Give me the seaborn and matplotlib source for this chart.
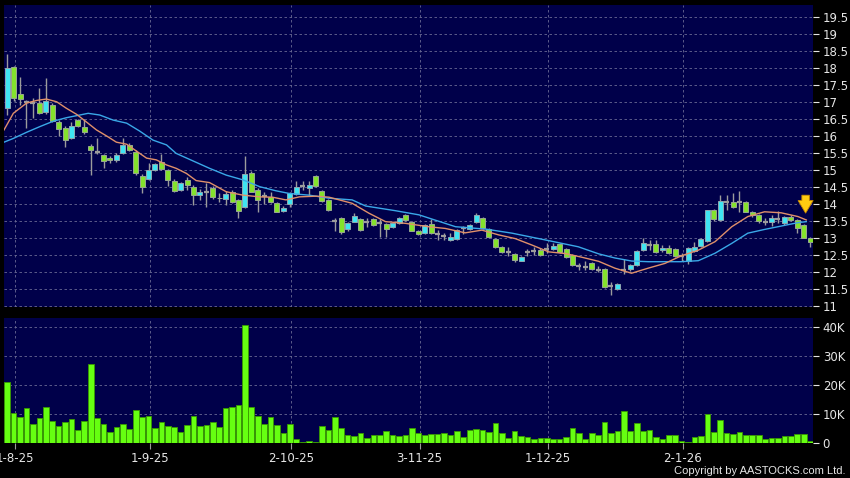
import numpy as np
import pandas as pd
import matplotlib
matplotlib.use("Agg")
import matplotlib.pyplot as plt
import seaborn as sns

# ---------------- data ----------------
opens = [16.81, 18.02, 17.22, 16.99, 16.96, 16.96, 16.71, 16.91, 16.40, 16.22,
         15.92, 16.45, 16.27, 15.71, 15.53, 15.42, 15.35, 15.28, 15.48, 15.73,
         15.53, 14.82, 14.73, 14.98, 15.23, 14.99, 14.68, 14.40, 14.70, 14.50,
         14.26, 14.33, 14.47, 14.18, 14.15, 14.35, 14.11, 13.91, 14.91, 14.40,
         14.22, 14.19, 14.01, 13.78, 13.98, 14.28, 14.53, 14.47, 14.81, 14.37,
         14.12, 13.49, 13.57, 13.24, 13.47, 13.54, 13.45, 13.54, 13.42, 13.39,
         13.32, 13.44, 13.67, 13.47, 13.20, 13.13, 13.39, 13.10, 13.04, 12.93,
         12.95, 13.27, 13.25, 13.45, 13.57, 13.24, 12.95, 12.71, 12.58, 12.52,
         12.32, 12.57, 12.61, 12.63, 12.66, 12.66, 12.81, 12.65, 12.48, 12.15,
         12.14, 12.24, 12.06, 12.07, 11.58, 11.48, 12.05, 12.07, 12.19, 12.64,
         12.77, 12.81, 12.63, 12.68, 12.66, 12.45, 12.30, 12.61, 12.76, 12.90,
         13.80, 13.52, 14.05, 14.05, 14.04, 14.04, 13.76, 13.66, 13.45, 13.47,
         13.55, 13.42, 13.62, 13.52, 13.36, 12.99]
highs = [18.40, 18.05, 17.72, 17.05, 17.10, 17.40, 17.69, 16.95, 16.45, 16.30,
         16.40, 16.50, 16.50, 15.75, 15.94, 15.45, 15.40, 15.48, 15.92, 15.78,
         15.57, 14.88, 15.19, 15.20, 15.45, 15.03, 14.72, 14.65, 14.78, 14.55,
         14.42, 14.60, 14.52, 14.30, 14.37, 14.40, 14.15, 15.40, 14.95, 14.45,
         14.35, 14.35, 14.05, 13.92, 14.35, 14.68, 14.68, 14.67, 14.85, 14.40,
         14.15, 13.57, 13.60, 13.45, 13.72, 13.57, 13.57, 13.57, 13.54, 13.42,
         13.46, 13.62, 13.70, 13.50, 13.23, 13.40, 13.55, 13.22, 13.15, 13.15,
         13.25, 13.35, 13.40, 13.72, 13.60, 13.27, 12.98, 12.74, 12.72, 12.55,
         12.47, 12.66, 12.72, 12.68, 12.84, 12.83, 12.84, 12.68, 12.51, 12.25,
         12.30, 12.27, 12.16, 12.10, 11.70, 11.66, 12.36, 12.22, 12.64, 12.98,
         12.92, 12.92, 12.78, 12.78, 12.70, 12.55, 12.72, 12.88, 12.98, 13.82,
         13.84, 14.25, 14.25, 14.32, 14.37, 14.07, 13.79, 13.69, 13.57, 13.66,
         13.78, 13.65, 13.66, 13.55, 13.40, 13.02]
lows = [16.61, 17.02, 16.91, 16.24, 16.51, 16.64, 16.65, 16.40, 16.00, 15.68,
        15.90, 16.25, 16.05, 14.84, 15.45, 15.04, 15.20, 15.22, 15.45, 15.55,
        14.85, 14.30, 14.70, 14.95, 15.00, 14.53, 14.35, 14.38, 14.40, 13.96,
        14.10, 13.91, 14.15, 14.05, 13.96, 14.03, 13.57, 13.88, 14.33, 13.76,
        14.00, 14.03, 13.74, 13.75, 13.90, 14.25, 14.40, 14.25, 14.50, 14.05,
        13.78, 13.18, 13.11, 13.20, 13.45, 13.18, 13.30, 13.34, 13.03, 13.03,
        13.28, 13.40, 13.50, 13.18, 13.07, 13.10, 13.12, 12.94, 12.94, 12.90,
        12.92, 13.12, 13.22, 13.43, 13.26, 12.98, 12.68, 12.55, 12.45, 12.28,
        12.30, 12.46, 12.50, 12.46, 12.56, 12.63, 12.55, 12.40, 12.15, 12.05,
        12.06, 12.05, 12.00, 11.52, 11.32, 11.46, 11.93, 12.02, 12.15, 12.60,
        12.62, 12.55, 12.58, 12.52, 12.42, 12.30, 12.22, 12.58, 12.72, 12.86,
        13.50, 13.50, 13.81, 13.86, 13.76, 13.74, 13.60, 13.42, 13.38, 13.35,
        13.42, 13.38, 13.48, 13.13, 12.98, 12.73]
closes = [17.99, 17.10, 17.07, 16.99, 16.96, 16.66, 17.02, 16.43, 16.19, 15.87,
          16.29, 16.29, 16.10, 15.57, 15.53, 15.26, 15.28, 15.43, 15.73, 15.57,
          14.89, 14.50, 14.99, 15.17, 15.02, 14.70, 14.38, 14.60, 14.54, 14.25,
          14.34, 14.33, 14.19, 14.16, 14.28, 14.06, 13.78, 14.86, 14.35, 14.11,
          14.22, 14.06, 13.76, 13.88, 14.30, 14.50, 14.53, 14.55, 14.52, 14.08,
          13.81, 13.49, 13.17, 13.42, 13.64, 13.21, 13.45, 13.37, 13.42, 13.26,
          13.44, 13.58, 13.52, 13.20, 13.11, 13.36, 13.15, 13.10, 13.04, 13.01,
          13.22, 13.27, 13.37, 13.67, 13.28, 13.01, 12.71, 12.58, 12.58, 12.34,
          12.44, 12.57, 12.61, 12.48, 12.66, 12.75, 12.58, 12.44, 12.18, 12.15,
          12.14, 12.07, 12.06, 11.54, 11.58, 11.62, 12.05, 12.19, 12.61, 12.85,
          12.77, 12.57, 12.70, 12.55, 12.46, 12.45, 12.69, 12.73, 12.95, 13.80,
          13.54, 14.09, 14.05, 13.89, 14.04, 13.76, 13.67, 13.50, 13.45, 13.59,
          13.55, 13.62, 13.52, 13.27, 12.99, 12.86]
volume_k = [21.0, 10.6, 9.0, 12.2, 6.7, 8.7, 12.4, 7.6, 6.1, 7.4,
            8.3, 4.6, 7.7, 27.3, 8.6, 6.6, 3.9, 5.7, 6.6, 5.0,
            11.5, 9.0, 9.4, 5.2, 7.2, 5.9, 5.7, 3.9, 6.3, 9.3,
            6.1, 6.3, 7.3, 5.6, 12.1, 12.5, 13.3, 40.8, 12.5, 9.5,
            6.8, 9.2, 6.2, 3.5, 6.7, 1.4, 0.6, 0.8, 0.3, 5.9,
            4.6, 9.0, 5.4, 3.0, 2.6, 3.6, 1.8, 2.8, 3.0, 4.3,
            2.9, 2.5, 2.9, 5.2, 3.4, 2.9, 3.1, 3.2, 3.7, 2.9,
            4.3, 2.1, 4.7, 4.9, 4.5, 4.0, 7.0, 3.6, 1.7, 4.1,
            2.5, 2.2, 1.5, 1.7, 1.9, 1.6, 1.6, 2.3, 5.2, 3.7,
            1.6, 3.4, 2.9, 7.2, 3.4, 4.3, 11.2, 4.1, 6.9, 4.1,
            4.6, 2.1, 1.6, 2.8, 2.8, 0.9, 0.3, 2.3, 2.5, 10.2,
            3.8, 8.0, 3.6, 3.3, 3.8, 3.0, 3.0, 2.8, 1.6, 1.7,
            1.8, 2.6, 2.4, 3.1, 3.3, 0.8]

# moving-average lines (bar position, value)
ma_short_pos = [-0.5, 0.95, 3.0, 4.6, 6.1, 7.7, 9.2, 10.8, 12.3, 13.9, 15.5, 17.0,
                18.6, 20.1, 21.7, 23.2, 24.8, 26.3, 27.9, 29.4, 31.5, 34.1, 36.7,
                39.3, 41.3, 43.4, 45.5, 48.1, 50.1, 53.7, 56.3, 58.9, 62.0, 65.6,
                68.2, 71.3, 73.9, 76.5, 79.1, 81.7, 84.3, 86.9, 89.5, 92.1, 94.6,
                97.2, 99.8, 102.4, 104.9, 107.6, 110.2, 112.8, 115.3, 117.9, 120.5,
                123.1, 124.4]
ma_short = [16.17, 16.66, 16.96, 17.04, 17.08, 17.00, 16.81, 16.63, 16.41, 16.17, 15.99, 15.81,
            15.75, 15.55, 15.34, 15.29, 15.14, 15.04, 14.89, 14.68, 14.62, 14.35, 14.25,
            14.20, 14.19, 14.11, 14.20, 14.22, 14.19, 14.01, 13.72, 13.47, 13.42, 13.32,
            13.27, 13.14, 13.22, 13.08, 12.97, 12.78, 12.58, 12.53, 12.42, 12.30, 12.10,
            11.95, 12.10, 12.24, 12.46, 12.63, 12.88, 13.32, 13.62, 13.76, 13.73,
            13.62, 13.52]
ma_long_pos = [-0.5, 0.95, 3.0, 5.1, 7.2, 9.2, 11.3, 12.6, 14.4, 16.5, 18.6, 20.6,
               22.7, 24.8, 26.3, 28.9, 31.5, 34.1, 36.7, 39.3, 41.8, 43.9, 47.0,
               50.1, 53.7, 55.8, 60.5, 64.1, 69.8, 74.5, 78.6, 83.8, 88.9, 92.1,
               94.6, 97.2, 99.8, 104.9, 107.6, 110.2, 112.8, 115.3, 117.9, 120.5,
               123.1, 124.4]
ma_long = [15.81, 15.92, 16.10, 16.27, 16.43, 16.53, 16.61, 16.66, 16.61, 16.46, 16.37, 16.14,
           15.87, 15.73, 15.48, 15.26, 15.04, 14.84, 14.70, 14.50, 14.38, 14.30, 14.25,
           14.16, 14.11, 13.93, 13.79, 13.67, 13.32, 13.25, 13.13, 12.93, 12.73, 12.52,
           12.40, 12.31, 12.29, 12.29, 12.32, 12.54, 12.83, 13.13, 13.24, 13.34,
           13.44, 13.47]

price_ticks = [11, 11.5, 12, 12.5, 13, 13.5, 14, 14.5, 15, 15.5, 16, 16.5,
               17, 17.5, 18, 18.5, 19, 19.5]
vol_ticks = [0, 10, 20, 30, 40]
vol_tick_labels = ["0", "10K", "20K", "30K", "40K"]
date_labels = ["1-8-25", "1-9-25", "2-10-25", "3-11-25", "1-12-25", "2-1-26"]
date_bars = [1, 22, 44, 64, 84, 105]

# ---------------- styling ----------------
BG = "#00004a"
TXT = "#e6e6e6"
GRID = "#6a6a94"
UP = "#3fe4f2"
DOWN = "#84e22c"
WICK = "#9c9c9c"
VOL = "#66ff11"

n = len(closes)
df = pd.DataFrame({"bar": np.arange(n), "open": opens, "high": highs,
                   "low": lows, "close": closes, "vol": volume_k})

fig = plt.figure(figsize=(8.5, 4.78), dpi=100, facecolor="black")
W, H = 850.0, 478.0
ax1 = fig.add_axes([4 / W, 1 - 307 / H, 809 / W, 302 / H])
ax2 = fig.add_axes([4 / W, 1 - 443.3 / H, 809 / W, 125 / H])

# ---- volume (seaborn) ----
sns.barplot(data=df, x="bar", y="vol", ax=ax2, native_scale=True, width=0.88,
            color=VOL, saturation=1, errorbar=None, edgecolor="#3a9a00",
            linewidth=0.6, zorder=3)

# ---- candles ----
ax1.vlines(df["bar"], df["low"], df["high"], color=WICK, lw=1.0, zorder=2)
up = df[df["close"] > df["open"]]
dn = df[df["close"] < df["open"]]
dj = df[df["close"] == df["open"]]
ax1.bar(up["bar"], up["close"] - up["open"], bottom=up["open"], width=0.78,
        color=UP, edgecolor="#8fa8b0", linewidth=0.7, zorder=3)
ax1.bar(dn["bar"], dn["open"] - dn["close"], bottom=dn["close"], width=0.78,
        color=DOWN, edgecolor="#98a890", linewidth=0.7, zorder=3)
ax1.hlines(dj["close"], dj["bar"] - 0.39, dj["bar"] + 0.39, color=WICK,
           lw=1.6, zorder=3)

# ---- moving averages (seaborn) ----
sns.lineplot(x=ma_long_pos, y=ma_long, ax=ax1, color="#3aa8e8", lw=1.0, zorder=4)
sns.lineplot(x=ma_short_pos, y=ma_short, ax=ax1, color="#e0906a", lw=1.0, zorder=4)

# ---- arrow ----
ax1.annotate("", xy=(124.3, 13.64), xytext=(124.3, 14.33),
             arrowprops=dict(arrowstyle="simple,head_width=0.9,head_length=0.75,tail_width=0.45",
                             fc="#ffcc11", ec="#c88a00", lw=0.6, mutation_scale=12),
             zorder=6)

# ---- axes formatting ----
xlim = (-0.5, 125.45)
grid_x = [b + 0.2 for b in date_bars]
for ax in (ax1, ax2):
    ax.set_facecolor(BG)
    for s in ax.spines.values():
        s.set_visible(False)
    ax.set_xlim(*xlim)
    ax.set_xlabel("")
    ax.set_ylabel("")
    ax.yaxis.tick_right()
    ax.set_xticks(grid_x)
    ax.grid(True, color=GRID, lw=0.6, ls=(0, (3, 3)), zorder=0)
    ax.set_axisbelow(True)

ax1.set_ylim(10.956, 19.85)
ax1.set_yticks(price_ticks)
ax1.set_yticklabels([f"{v:g}" for v in price_ticks])
ax1.tick_params(axis="x", length=0, labelbottom=False)
ax1.tick_params(axis="y", colors=TXT, length=4, width=0.8, pad=3, labelsize=8.5)

ax2.set_ylim(0, 43.1)
ax2.set_yticks(vol_ticks)
ax2.set_yticklabels(vol_tick_labels)
ax2.set_xticklabels(date_labels)
ax2.tick_params(axis="y", colors=TXT, length=4, width=0.8, pad=3, labelsize=8.5)
ax2.tick_params(axis="x", colors=TXT, length=4, width=0.8, pad=2, labelsize=8.5)
ax2.tick_params(axis="x", color="#9a9a9a")

fig.text(846 / W, 1 - 471.5 / H, "Copyright by AASTOCKS.com Ltd.", color=TXT,
         fontsize=8, family="Liberation Sans", ha="right", va="center")

fig.savefig("out.png", dpi=100, facecolor="black")
